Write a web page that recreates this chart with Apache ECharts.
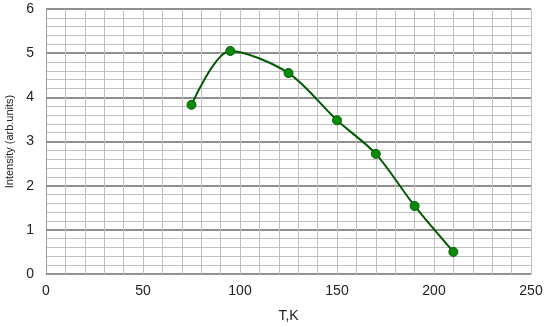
<!DOCTYPE html>
<html><head><meta charset="utf-8">
<script src="https://cdn.jsdelivr.net/npm/echarts@6/dist/echarts.min.js"></script>
<style>html,body{margin:0;padding:0;background:#fff}#c{width:545px;height:327px}</style>
</head><body><div id="c"></div>
<script>
var temperatures = [75, 95, 125, 150, 170, 190, 210];
var intensities = [3.83, 5.05, 4.55, 3.48, 2.72, 1.54, 0.5];
var xTicks = [0, 50, 100, 150, 200, 250];
var yTicks = [0, 1, 2, 3, 4, 5, 6];

var chart = echarts.init(document.getElementById('c'));
var pts = temperatures.map(function(t, i){ return [t, intensities[i]]; });
chart.setOption({
  animation: false,
  grid: {left: 46, right: 14, top: 9, bottom: 53, containLabel: false, outerBoundsMode: 'none'},
  xAxis: {
    type: 'value', min: xTicks[0], max: xTicks[xTicks.length-1], interval: 50,
    name: 'T,K', nameLocation: 'middle', nameGap: 35,
    nameTextStyle: {fontFamily: 'Liberation Sans', fontSize: 14, color: '#222'},
    axisLine: {show: true, lineStyle: {color: '#999', width: 1}},
    axisTick: {show: false},
    axisLabel: {fontFamily: 'Liberation Sans', fontSize: 14, color: '#222', margin: 10},
    splitLine: {show: true, lineStyle: {color: '#c0c0c0', width: 1}},
    minorTick: {show: false, splitNumber: 5},
    minorSplitLine: {show: true, lineStyle: {color: '#c0c0c0', width: 1}}
  },
  yAxis: {
    type: 'value', min: yTicks[0], max: yTicks[yTicks.length-1], interval: 1,
    name: 'Intensity (arb.units)', nameLocation: 'middle', nameGap: 31, nameRotate: 90,
    nameTextStyle: {fontFamily: 'Liberation Sans', fontSize: 11, color: '#222'},
    axisLine: {show: true, lineStyle: {color: '#999', width: 1}},
    axisTick: {show: false},
    axisLabel: {fontFamily: 'Liberation Sans', fontSize: 14, color: '#222', margin: 12},
    splitLine: {show: true, lineStyle: {color: '#6a6a6a', width: 1.5}},
    minorTick: {show: false, splitNumber: 5},
    minorSplitLine: {show: true, lineStyle: {color: '#c0c0c0', width: 1}}
  },
  series: [{
    type: 'line', data: pts, smooth: 0.3,
    symbol: 'circle', symbolSize: 9,
    lineStyle: {color: '#005a00', width: 2},
    itemStyle: {color: '#0a8a0a', borderColor: '#006000', borderWidth: 1},
    z: 5
  }]
});
</script></body></html>
